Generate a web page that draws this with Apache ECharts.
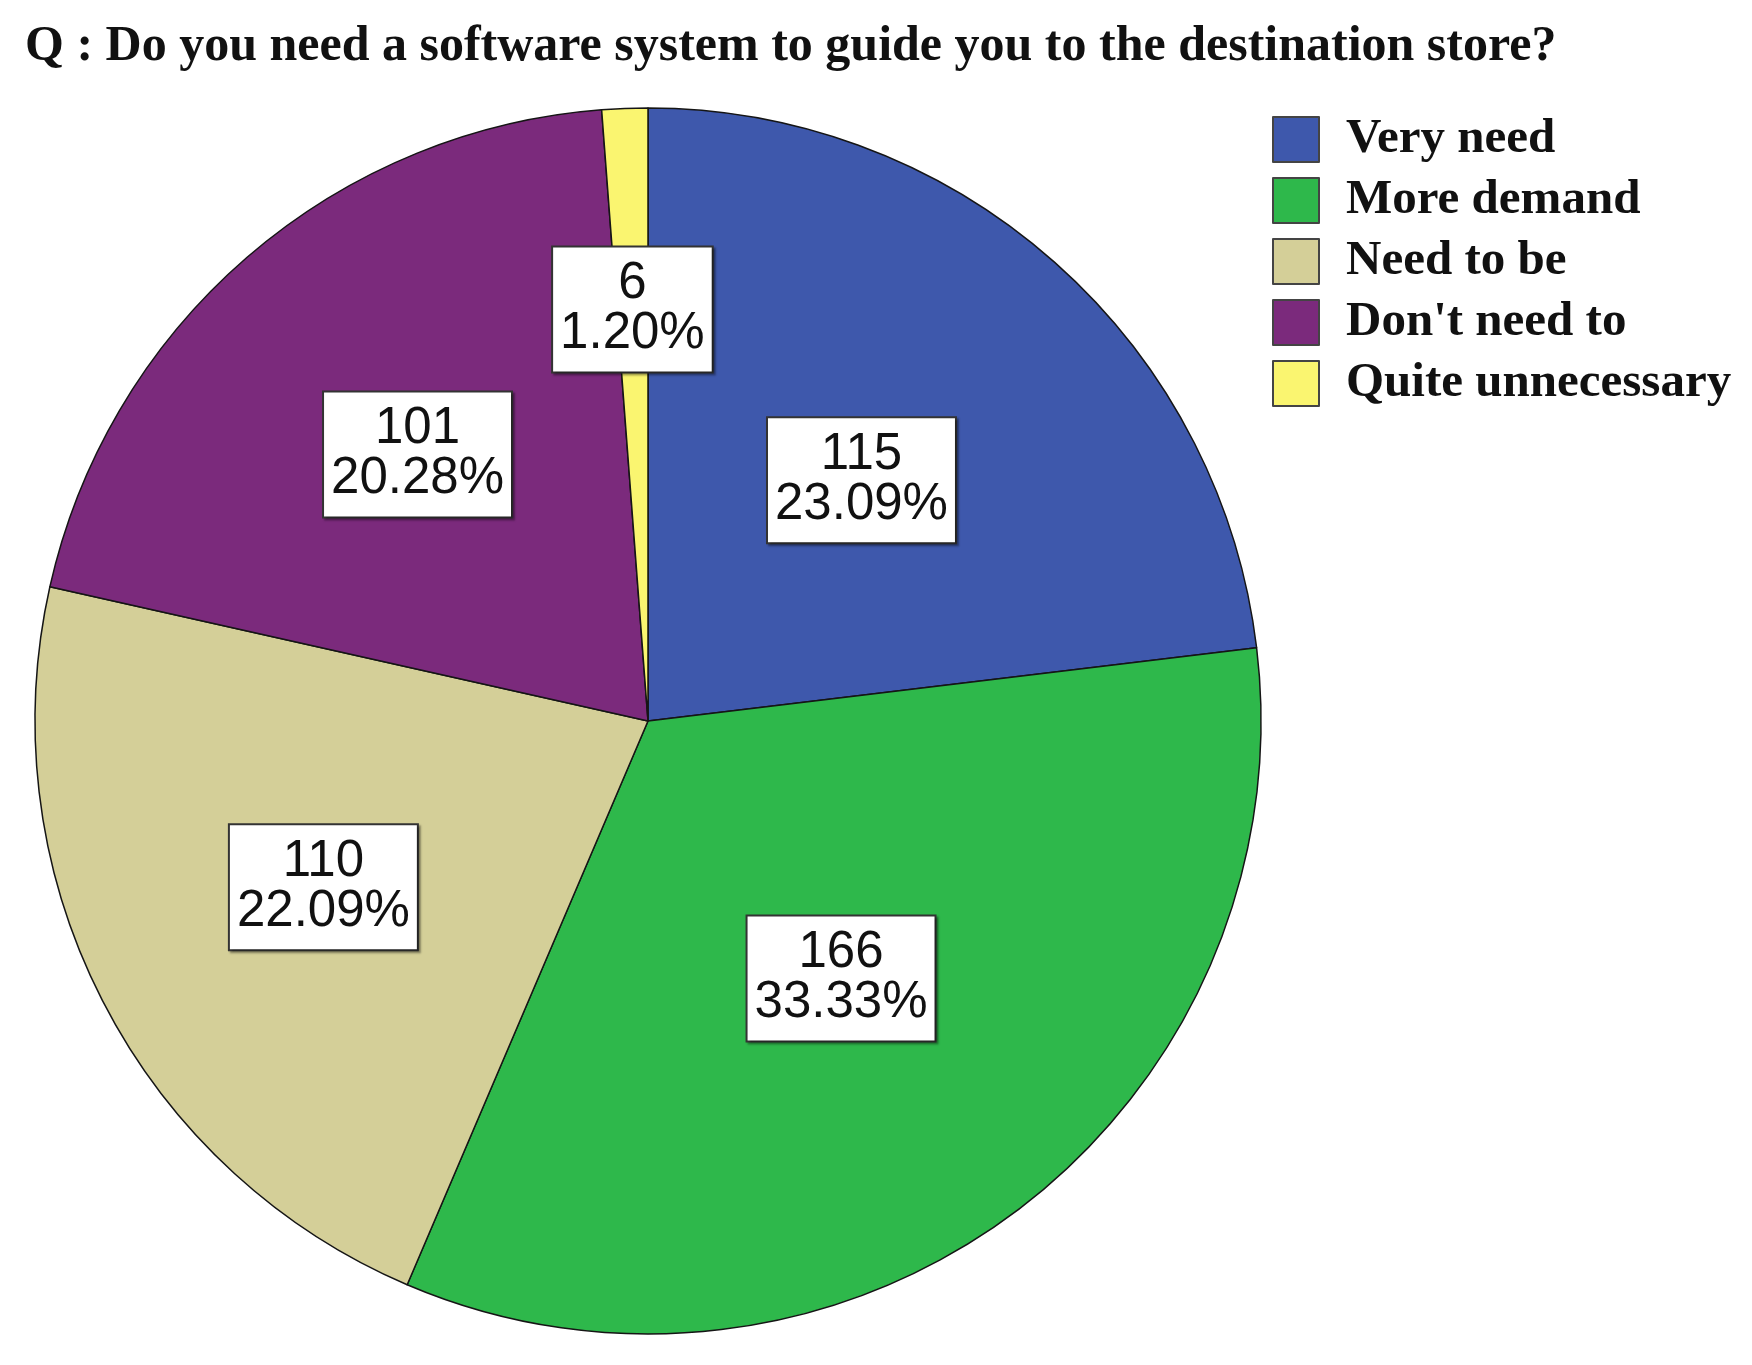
<!DOCTYPE html>
<html lang="en">
<head>
	<meta charset="UTF-8">
	<title>Pie chart</title>
	<style>
		html, body { margin: 0; padding: 0; background: #fff; }
		#main { width: 1752px; height: 1365px; }
	</style>
</head>
<body>
	<div id="main"></div>
</body>
<script type="text/javascript" src="https://cdn.jsdelivr.net/npm/echarts@6/dist/echarts.min.js"></script>
<script type="text/javascript">
		// 数据
		var titleText = 'Q : Do you need a software system to guide you to the destination store?';
		var categories = ['Very need', 'More demand', 'Need to be', "Don't need to", 'Quite unnecessary'];
		var counts = [115, 166, 110, 101, 6];
		var colors = ['#3e58ac', '#2eb84b', '#d4cf98', '#7b2a7c', '#faf570'];
		// 标签离圆心的距离（半径的比例）
		var labelRadius = [0.52, 0.52, 0.59, 0.57, 0.667];

		var pieRadius = 613;
		var total = 0;
		for (var i = 0; i < counts.length; i++) {
			total += counts[i];
		}

		// 每个扇区中间的角度（从12点方向顺时针）
		function midAngle(idx){
			var sum = 0;
			for (var i = 0; i < idx; i++) {
				sum += counts[i];
			}
			return (sum + counts[idx] / 2) / total * Math.PI * 2;
		}

		var pieData = [];
		for (var i = 0; i < categories.length; i++) {
			pieData.push({
				name: categories[i],
				value: counts[i],
				itemStyle: { color: colors[i] }
			});
		}

		var myChart = echarts.init(document.getElementById('main'));
		var option = {
			animation: false,
			title: {
				text: titleText,
				left: 25,
				top: 22,
				padding: 0,
				textStyle: {
					fontFamily: 'Liberation Serif',
					fontWeight: 'bold',
					fontSize: 50,
					color: '#111'
				}
			},
			legend: {
				orient: 'vertical',
				left: 1272,
				top: 115,
				padding: 0,
				itemWidth: 46,
				itemHeight: 45,
				itemGap: 12,
				icon: 'rect',
				data: categories,
				itemStyle: {
					borderColor: '#444',
					borderWidth: 2
				},
				textStyle: {
					fontFamily: 'Liberation Serif',
					fontWeight: 'bold',
					fontSize: 49,
					lineHeight: 45,
					color: '#111',
					padding: [4, 0, 0, 22]
				}
			},
			series: [{
				name: 'Q',
				type: 'pie',
				center: [648, 721],
				radius: pieRadius,
				startAngle: 90,
				clockwise: true,
				avoidLabelOverlap: false,
				data: pieData,
				itemStyle: {
					borderColor: '#151515',
					borderWidth: 1.5
				},
				emphasis: { disabled: true },
				label: {
					show: true,
					position: 'inside',
					formatter: function(p){
						return p.value + '\n' + (p.value / total * 100).toFixed(2) + '%';
					},
					fontFamily: 'Liberation Sans',
					fontSize: 51,
					lineHeight: 50,
					color: '#111',
					backgroundColor: '#fff',
					borderColor: '#333',
					borderWidth: 2,
					padding: [12, 7, 12, 7],
					shadowColor: 'rgba(0,0,0,0.35)',
					shadowBlur: 2,
					shadowOffsetX: 2,
					shadowOffsetY: 2
				},
				labelLayout: function(params){
					var idx = params.dataIndex;
					var a = midAngle(idx);
					var extra = (labelRadius[idx] - 0.5) * pieRadius;
					return {
						dx: extra * Math.sin(a),
						dy: -extra * Math.cos(a)
					};
				},
				labelLine: { show: false }
			}]
		};
		myChart.setOption(option);
</script>
</html>
